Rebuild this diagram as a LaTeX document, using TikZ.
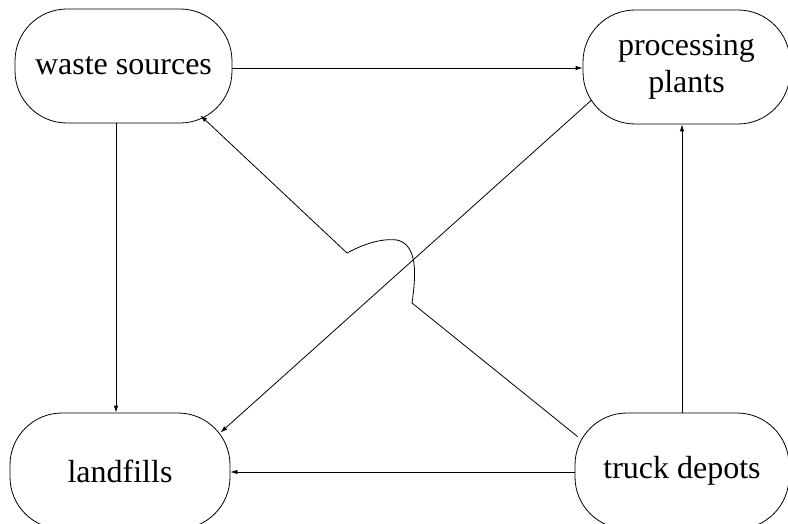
\documentclass[tikz,border=0pt]{standalone}
\usepackage{fontspec}
\setmainfont{Liberation Serif}
\usetikzlibrary{arrows.meta}
\begin{document}
\begin{tikzpicture}[x=1pt,y=-1pt,
  box/.style={draw,line width=0.8pt,rounded corners=52pt,inner sep=0pt,
    font=\fontsize{32}{37}\selectfont,align=center},
  conn/.style={line width=0.8pt,-{Latex[length=7pt,width=4.5pt]}},
  plain/.style={line width=0.8pt}]
\useasboundingbox (0,0) rectangle (788,524);
\node[box,minimum width=217pt,minimum height=114pt] (ws) at (123.5,66) {waste sources};
\node[box,minimum width=207pt,minimum height=114pt] (pp) at (686.5,67) {processing\\plants};
\node[box,minimum width=220pt,minimum height=116pt] (lf) at (120,471) {landfills};
\node[box,minimum width=214pt,minimum height=116pt] (td) at (682,471) {truck depots};
\draw[conn] ([yshift=-2pt]ws.east) -- ([yshift=-2pt]ws.east -| pp.west);
\draw[conn] ([xshift=-7.5pt]ws.south) -- ([xshift=-7.5pt]ws.south |- lf.north);
\draw[conn] ([yshift=-1pt]td.west) -- ([yshift=-1pt]td.west -| lf.east);
\draw[conn] (td.north) -- (td.north |- pp.south);
\draw[conn] ([xshift=9pt,yshift=-33pt]pp.west) -- ([xshift=-10pt,yshift=-20pt]lf.north east);
\draw[conn] ([xshift=3pt,yshift=-24pt]td.north west) -- (412,303)
  .. controls (416,275) and (418,245) .. (397,240)
  .. controls (380,238) and (362,245) .. (347,253)
  -- ([xshift=-32pt,yshift=8pt]ws.south east);
\end{tikzpicture}
\end{document}
